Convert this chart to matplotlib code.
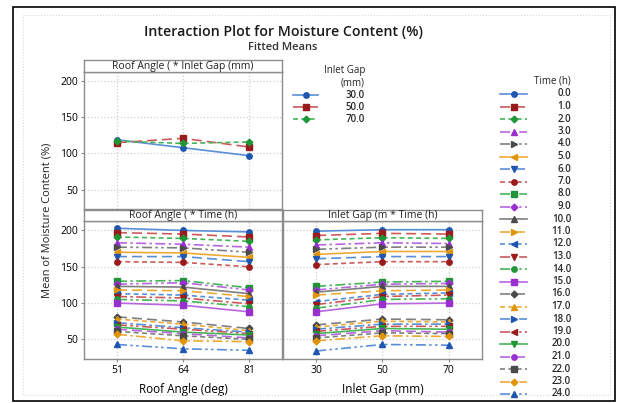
import matplotlib
matplotlib.use('Agg')
import matplotlib.pyplot as plt
from matplotlib.patches import Rectangle

plt.rcParams['font.family'] = ['Open Sans', 'DejaVu Sans']

# ---- data ----
roof_angles = ['51', '64', '81']
inlet_gaps = ['30', '50', '70']
gap_labels = ['30.0', '50.0', '70.0']
time_labels = ['0.0', '1.0', '2.0', '3.0', '4.0', '5.0', '6.0', '7.0', '8.0',
               '9.0', '10.0', '11.0', '12.0', '13.0', '14.0', '15.0', '16.0',
               '17.0', '18.0', '19.0', '20.0', '21.0', '22.0', '23.0', '24.0']

# mean moisture by roof angle, one row per inlet gap
gap_by_roof = [
    [119, 108, 97],
    [115, 121, 109],
    [117, 114, 116],
]

# mean moisture by roof angle, one row per time
time_by_roof = [
    [203, 200, 198],
    [197, 195, 191],
    [191, 189, 185],
    [183, 181, 177],
    [177, 176, 170],
    [170, 169, 163],
    [164, 164, 157],
    [157, 156, 150],
    [130, 131, 121],
    [126, 128, 118],
    [123, 122, 113],
    [118, 117, 109],
    [113, 111, 104],
    [109, 107, 99],
    [105, 103, 95],
    [100, 97, 88],
    [81, 74, 65],
    [78, 71, 62],
    [73, 66, 60],
    [70, 64, 58],
    [67, 60, 56],
    [64, 58, 52],
    [61, 55, 50],
    [57, 48, 47],
    [43, 37, 35],
]

# mean moisture by inlet gap, one row per time
time_by_gap = [
    [199, 201, 201],
    [193, 196, 195],
    [187, 190, 189],
    [180, 183, 182],
    [174, 177, 177],
    [167, 171, 171],
    [161, 164, 164],
    [153, 157, 157],
    [123, 129, 130],
    [118, 126, 127],
    [115, 123, 123],
    [111, 117, 118],
    [102, 112, 114],
    [98, 109, 111],
    [93, 105, 106],
    [88, 99, 100],
    [70, 78, 77],
    [67, 75, 74],
    [64, 71, 71],
    [61, 68, 68],
    [58, 65, 64],
    [55, 62, 60],
    [52, 59, 58],
    [48, 55, 54],
    [34, 43, 42],
]

# ---- Minitab-like styles ----
mark_colors = ['#1f56b0', '#9a1b1b', '#1e9636', '#9a2fd0', '#4a4a4a', '#e0940c']
line_colors = ['#5a8fd8', '#cc5a5a', '#45b558', '#b866e0', '#7f7f7f', '#eeaa35']
markers = ['o', 's', 'D', '^', '>', '<', 'v']
linestyles = ['-', (0, (6, 3)), (0, (3, 2)), (0, (6, 2, 1.5, 2)), (0, (6, 2, 1.5, 2, 1.5, 2))]


def style(i):
    return dict(color=line_colors[i % 6], markerfacecolor=mark_colors[i % 6],
                markeredgecolor=mark_colors[i % 6], marker=markers[i % 7],
                linestyle=linestyles[i % 5], linewidth=1.2,
                markersize=3.9 if markers[i % 7] != 'D' else 3.4)


W, H = 624, 403
fig = plt.figure(figsize=(W / 100, H / 100), dpi=100)


def ax_px(x0, y0, x1, y1, **kw):
    return fig.add_axes([x0 / W, 1 - y1 / H, (x1 - x0) / W, (y1 - y0) / H], **kw)


spine_col = '#8c8c8c'
grid_col = '#cfcfcf'
YLIM = (23, 213)


def setup_panel(ax, show_x, show_y):
    ax.set_xlim(-0.5, 2.5)
    ax.set_ylim(*YLIM)
    ax.set_xticks([0, 1, 2])
    ax.set_yticks([50, 100, 150, 200])
    ax.grid(True, linestyle=':', color=grid_col, linewidth=0.9)
    ax.set_axisbelow(True)
    for s in ax.spines.values():
        s.set_color(spine_col)
        s.set_linewidth(1.0)
    ax.tick_params(length=2.5, color=spine_col, labelsize=7.5, pad=2,
                   labelbottom=show_x, labelleft=show_y,
                   bottom=show_x, left=show_y)


def header(x0, y0, x1, y1, text):
    h = ax_px(x0, y0, x1, y1)
    h.set_xticks([])
    h.set_yticks([])
    for s in h.spines.values():
        s.set_color(spine_col)
        s.set_linewidth(1.0)
    h.text(0.5, 0.5, text, ha='center', va='center', fontsize=7.5,
           color='#222222', transform=h.transAxes)


# top-left: roof angle x inlet gap
top = ax_px(84, 72, 282, 209)
setup_panel(top, False, True)
for i, row in enumerate(gap_by_roof):
    top.plot(range(len(roof_angles)), row, **style(i))
header(84, 60, 282, 72, 'Roof Angle ( * Inlet Gap (mm)')

# bottom-left: roof angle x time
bl = ax_px(84, 221, 282, 359)
setup_panel(bl, True, True)
for i, row in enumerate(time_by_roof):
    bl.plot(range(len(roof_angles)), row, **style(i))
bl.set_xticklabels(roof_angles)
bl.set_xlabel('Roof Angle (deg)', fontsize=8.5, labelpad=5)
header(84, 210, 282, 221, 'Roof Angle ( * Time (h)')

# bottom-right: inlet gap x time
br = ax_px(283, 221, 482, 359)
setup_panel(br, True, False)
for i, row in enumerate(time_by_gap):
    br.plot(range(len(inlet_gaps)), row, **style(i))
br.set_xticklabels(inlet_gaps)
br.set_xlabel('Inlet Gap (mm)', fontsize=8.5, labelpad=5)
header(283, 210, 482, 221, 'Inlet Gap (m * Time (h)')

# overlay in pixel units for frame, titles and legends
ov = ax_px(0, 0, W, H, zorder=10)
ov.set_xlim(0, W)
ov.set_ylim(H, 0)
ov.axis('off')
ov.patch.set_alpha(0)
ov.add_patch(Rectangle((13, 7), 602, 394, fill=False, edgecolor='black', linewidth=1.2))
ov.add_patch(Rectangle((23, 15), 587, 380, fill=False, edgecolor='#d8d8d8',
                       linewidth=0.8, linestyle=':'))

ov.text(283, 32, 'Interaction Plot for Moisture Content (%)', ha='center', va='center',
        fontsize=10.2, fontweight='semibold', color='#1a1a1a')
ov.text(283, 47, 'Fitted Means', ha='center', va='center', fontsize=8,
        fontweight='semibold', color='#333333')
ov.text(47, 220, 'Mean of Moisture Content (%)', ha='center', va='center',
        rotation=90, fontsize=8, color='#222222')

# inlet gap legend
ov.text(365, 71, 'Inlet Gap', ha='right', va='center', fontsize=7, color='#222222')
ov.text(365, 83, '(mm)', ha='right', va='center', fontsize=7, color='#222222')
for i, lab in enumerate(gap_labels):
    y = 95 + i * 12
    st = style(i)
    ov.plot([293, 318], [y, y], **{k: v for k, v in st.items() if k != 'marker'})
    ov.plot([305.5], [y], **st)
    ov.text(365, y, lab, ha='right', va='center', fontsize=7, color='#2a2a2a',
            fontweight='semibold')

# time legend
ov.text(571, 81, 'Time (h)', ha='right', va='center', fontsize=7, color='#222222')
for i, lab in enumerate(time_labels):
    y = 94 + i * 12.5
    st = style(i)
    ov.plot([500, 527], [y, y], **{k: v for k, v in st.items() if k != 'marker'})
    ov.plot([513.5], [y], **st)
    ov.text(571, y, lab, ha='right', va='center', fontsize=7, color='#2a2a2a',
            fontweight='semibold')

fig.savefig('out.png', dpi=100)
